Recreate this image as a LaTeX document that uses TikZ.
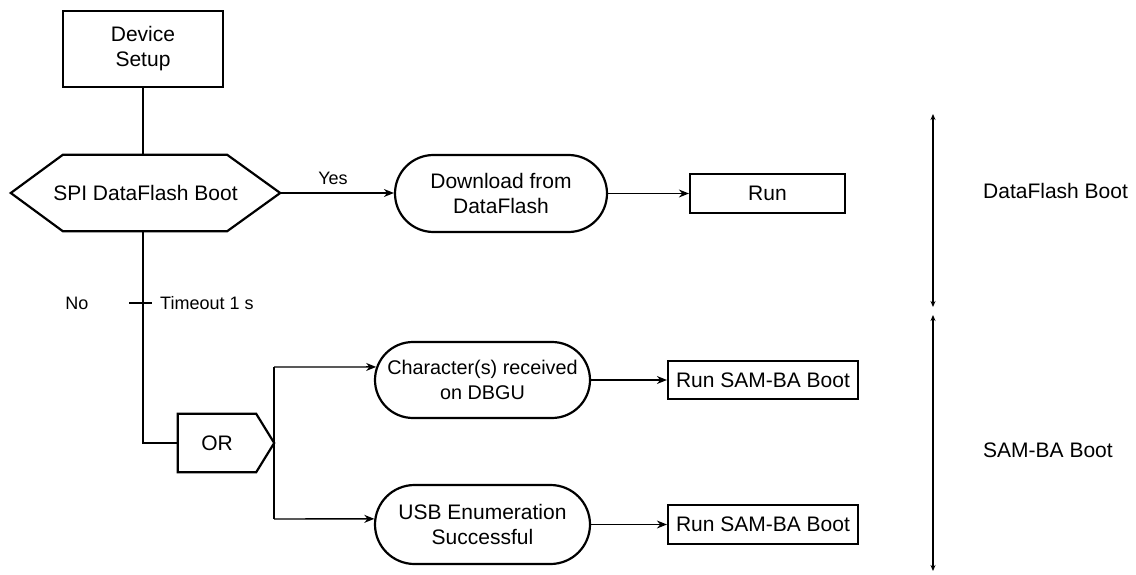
\documentclass[tikz,border=0pt]{standalone}
\usepackage{fontspec}
\setmainfont{Liberation Sans}
\usetikzlibrary{shapes.misc,arrows.meta}
\begin{document}
\begin{tikzpicture}[x=1pt,y=-1pt,
  font=\fontsize{21}{25}\selectfont,
  box/.style={draw,line width=2.2pt,align=center,inner sep=0pt},
  rnd/.style={draw,rounded rectangle,line width=2.2pt,align=center,inner sep=0pt},
  plain/.style={align=center,inner sep=0pt},
  heavy/.style={line width=2.2pt},
  mid/.style={line width=1.6pt},
  arr/.style={-{Stealth[length=10pt,width=8pt]},line width=1.4pt},
  span/.style={{Stealth[length=6pt,width=5pt]}-{Stealth[length=6pt,width=5pt]},line width=1.1pt},
  small/.style={font=\fontsize{18}{21}\selectfont,inner sep=0pt}]
\useasboundingbox (0,0) rectangle (1136,575);

% nodes
\node[box,minimum width=160,minimum height=76] (dev) at (143,49) {Device\\Setup};
\node[plain,minimum width=269,minimum height=76] (hex) at (145.5,193) {SPI DataFlash Boot};
\draw[heavy,line join=miter] (hex.west) -- ([xshift=52pt]hex.north west) -- ([xshift=-53pt]hex.north east)
  -- (hex.east) -- ([xshift=-53pt]hex.south east) -- ([xshift=52pt]hex.south west) -- cycle;
\node[rnd,minimum width=212,minimum height=77] (dl) at (501,193.5) {Download from\\DataFlash};
\node[box,minimum width=155,minimum height=39] (run) at (767.5,193.5) {Run};

\node[plain,minimum width=78,minimum height=58] (or) at (217,443) {OR};
\coordinate (orp) at ([xshift=18pt]or.east);
\draw[heavy] (or.north west) -- (or.north east) -- (orp) -- (or.south east) -- (or.south west) -- cycle;

\node[rnd,minimum width=215,minimum height=76,font=\fontsize{19.8}{25}\selectfont] (chr) at (482.5,380) {Character(s) received\\on DBGU};
\node[rnd,minimum width=215,minimum height=79] (usb) at (482.5,524.5) {USB Enumeration\\Successful};
\node[box,minimum width=190,minimum height=38] (sb1) at (763,380) {Run SAM-BA Boot};
\node[box,minimum width=190,minimum height=39] (sb2) at (763,524.5) {Run SAM-BA Boot};

% connectors
\draw[heavy] (dev.south) -- (dev.south |- hex.north);
\draw[heavy] (dev.south |- hex.south) -- (dev.south |- or.west) -- (or.west);
\coordinate (tick) at (dev.south |- 0,303);
\draw[heavy] ([xshift=-14pt]tick) -- ([xshift=9pt]tick);
\node[small] (no) at (77,303) {No};
\node[small,anchor=west] (tmo) at (160,303) {Timeout 1 s};

\draw[arr] (hex.east) -- (hex.east -| dl.west);
\node[small] (yes) at (333,178) {Yes};
\draw[arr] (dl.east) -- (run.west);

\draw[mid] (orp) -- (orp |- 0,367);
\draw[mid] (orp) -- (orp |- 0,519);
\draw[arr] (orp |- 0,367) -- (chr.173);
\draw[arr] (orp |- 0,519) -- (usb.177);
\draw[arr] (chr.east) -- (sb1.west);
\draw[arr] (usb.east) -- (sb2.west);

% span markers
\coordinate (a1) at (933,114);
\coordinate (a2) at (933,307);
\coordinate (b1) at (933,315);
\coordinate (b2) at (933,571);
\draw[span] (a1) -- (a2);
\draw[span] (b1) -- (b2);
\node[plain,anchor=west] (lab1) at (983,191) {DataFlash Boot};
\node[plain,anchor=west] (lab2) at (983,450) {SAM-BA Boot};
\end{tikzpicture}
\end{document}
